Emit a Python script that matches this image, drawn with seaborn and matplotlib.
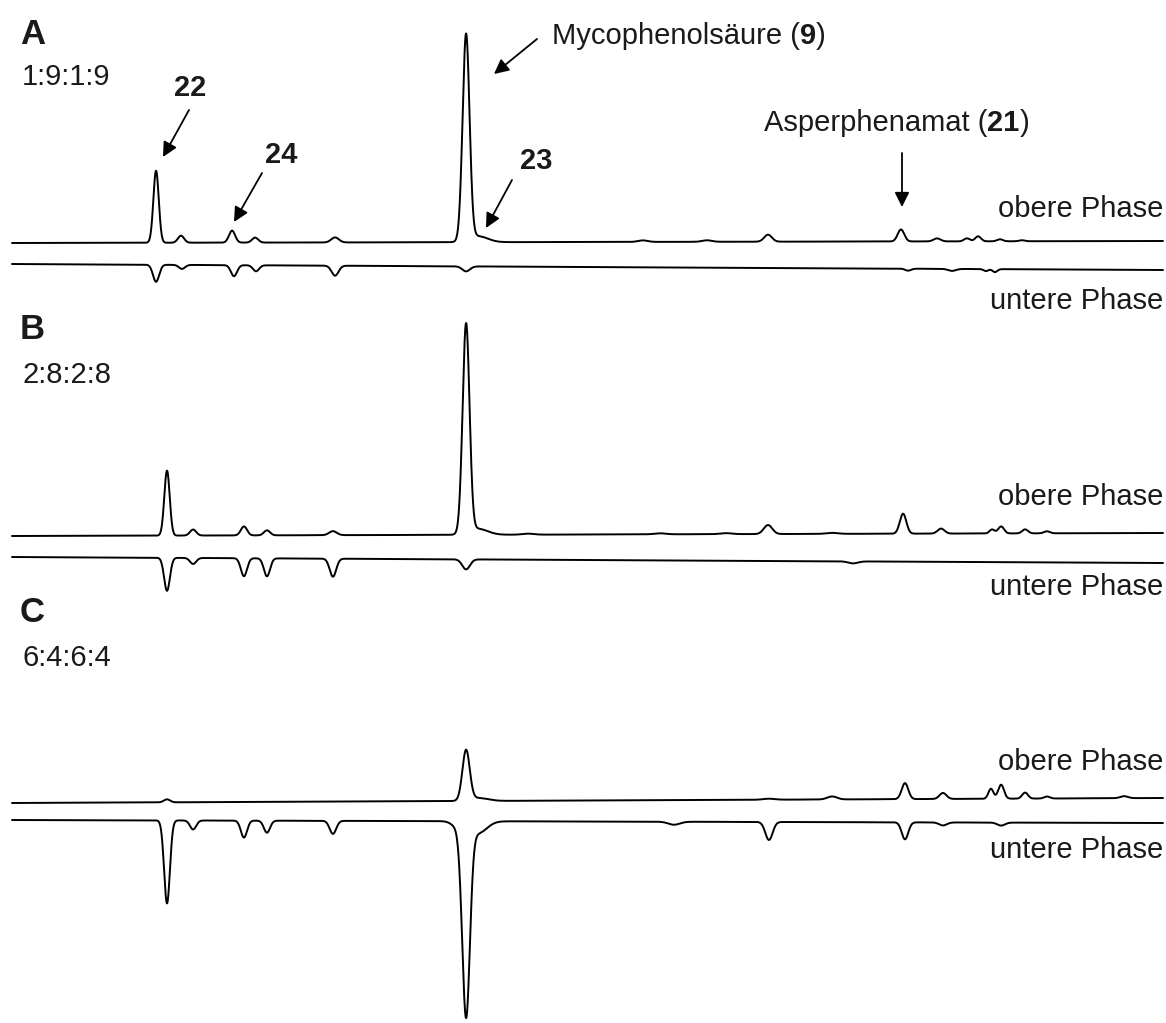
import numpy as np
import pandas as pd
import matplotlib
matplotlib.use("Agg")
import matplotlib.pyplot as plt
import seaborn as sns

sns.set_theme(style="white")
plt.rcParams["font.family"] = ["Liberation Sans", "DejaVu Sans"]

W, H = 1166, 1023

# ---------------- data: peaks (retention time [min], height, width sigma [min]) -------------
# Panel A (1:9:1:9)
A_up_rt = [7.51, 8.81, 11.47, 12.67, 16.84, 23.67, 24.29, 32.89, 36.23, 39.41, 46.34, 48.22, 49.78, 50.36, 51.50, 52.65]
A_up_h = [72, 7, 12, 5, 5, 206, 6, 1.5, 1.5, 7, 12, 3, 3, 5, 2, 1]
A_up_w = [0.14, 0.16, 0.16, 0.16, 0.2, 0.18, 0.5, 0.25, 0.25, 0.2, 0.17, 0.18, 0.15, 0.15, 0.15, 0.15]
A_lo_rt = [7.51, 8.86, 11.57, 12.72, 16.84, 23.67, 46.71, 49.00, 50.77, 51.24]
A_lo_h = [17, 4, 11, 6, 10, 5, 2, 2, 2, 3]
A_lo_w = [0.16, 0.16, 0.16, 0.16, 0.18, 0.2, 0.15, 0.2, 0.12, 0.12]

# Panel B (2:8:2:8)
B_up_rt = [8.08, 9.44, 12.09, 13.29, 16.73, 23.67, 24.29, 26.90, 33.78, 37.22, 39.41, 42.75, 46.45, 48.43, 51.09, 51.56, 52.81, 53.95]
B_up_h = [65, 6, 9, 5, 4, 209, 6, 1, 1, 1, 9, 1, 20, 5, 4, 7, 4, 2]
B_up_w = [0.14, 0.16, 0.16, 0.16, 0.2, 0.18, 0.5, 0.3, 0.3, 0.3, 0.22, 0.3, 0.17, 0.18, 0.13, 0.15, 0.15, 0.15]
B_lo_rt = [8.08, 9.44, 12.09, 13.29, 16.73, 23.67, 43.84]
B_lo_h = [33, 6, 18, 18, 18, 10, 2]
B_lo_w = [0.15, 0.16, 0.16, 0.16, 0.17, 0.2, 0.25]

# Panel C (6:4:6:4)
C_up_rt = [8.08, 23.67, 24.29, 39.46, 42.75, 46.55, 48.53, 51.03, 51.56, 52.81, 53.95, 57.97]
C_up_h = [3, 50, 3, 1, 3, 16, 6, 10, 14, 6, 2, 2]
C_up_w = [0.16, 0.19, 0.5, 0.3, 0.25, 0.17, 0.18, 0.13, 0.15, 0.15, 0.15, 0.2]
C_lo_rt = [8.08, 9.44, 12.09, 13.29, 16.73, 23.25, 23.67, 24.29, 34.51, 39.46, 46.55, 48.53, 51.56]
C_lo_h = [83, 9, 17, 12, 13, 6, 190, 12, 3, 18, 17, 3, 3]
C_lo_w = [0.15, 0.16, 0.16, 0.16, 0.17, 0.3, 0.2, 0.45, 0.3, 0.19, 0.17, 0.2, 0.2]

# baseline drift over the run (signal units, start -> end)
drift = {"A_up": (0, 2), "A_lo": (0, -6), "B_up": (0, 3), "B_lo": (0, -6),
         "C_up": (0, 5), "C_lo": (0, -3)}

panel_labels = ["A", "B", "C"]
ratios = ["1:9:1:9", "2:8:2:8", "6:4:6:4"]
phase_labels = ["obere Phase", "untere Phase"]

# ---------------- build traces ----------------
t = np.linspace(0.0, 60.0, 6000)

def trace(rts, hs, ws, d):
    s = np.zeros_like(t)
    for r, h, w in zip(rts, hs, ws):
        s += h * np.exp(-0.5 * ((t - r) / w) ** 2)
    s += np.interp(t, [t[0], t[-1]], list(d))
    return s

# layout: vertical offsets of each trace (figure pixel rows from the top)
rows = {"A_up": 243, "A_lo": 264, "B_up": 536, "B_lo": 557, "C_up": 803, "C_lo": 820}
specs = {
    "A_up": (A_up_rt, A_up_h, A_up_w, 1), "A_lo": (A_lo_rt, A_lo_h, A_lo_w, -1),
    "B_up": (B_up_rt, B_up_h, B_up_w, 1), "B_lo": (B_lo_rt, B_lo_h, B_lo_w, -1),
    "C_up": (C_up_rt, C_up_h, C_up_w, 1), "C_lo": (C_lo_rt, C_lo_h, C_lo_w, -1),
}
frames = []
for key, (rts, hs, ws, sgn) in specs.items():
    sig = trace(rts, hs, ws, (0, 0))
    base = np.interp(t, [t[0], t[-1]], list(drift[key]))
    y = (H - rows[key]) + sgn * sig + base
    frames.append(pd.DataFrame({"t": t, "y": y, "trace": key}))
df = pd.concat(frames, ignore_index=True)

# ---------------- figure ----------------
fig = plt.figure(figsize=(W / 100, H / 100), dpi=100)
ax = fig.add_axes([0, 0, 1, 1])
k = 60.0 / 1151.0
ax.set_xlim(-12 * k, 60 + 3 * k)
ax.set_ylim(0, H)
sns.lineplot(data=df, x="t", y="y", units="trace", estimator=None, sort=False,
             color="black", lw=1.4, ax=ax, legend=False)
ax.set_axis_off()

FS = 21

def fx(x):
    return x / W

def fy(y):
    return 1 - y / H

def rich(x, y, parts, size=FS):
    r = fig.canvas.get_renderer()
    for s, wt in parts:
        tx = fig.text(fx(x), fy(y), s, fontsize=size, fontweight=wt, ha="left", va="center", color="#1a1a1a")
        bb = tx.get_window_extent(r)
        x += bb.width

def arrow(x1, y1, x2, y2):
    ax.annotate("", xy=(fx(x2), fy(y2)), xytext=(fx(x1), fy(y1)),
                xycoords="figure fraction", textcoords="figure fraction",
                arrowprops=dict(arrowstyle="-|>", color="black", lw=1.3,
                                mutation_scale=22, shrinkA=0, shrinkB=0))

# panel labels and ratios
for lab, rat, ly, ry in zip(panel_labels, ratios, [34, 330, 612], [77, 375, 658]):
    fig.text(fx(20), fy(ly), lab, fontsize=25, fontweight="bold", ha="left", va="center", color="#1a1a1a")
    fig.text(fx(22), fy(ry), rat, fontsize=FS, ha="left", va="center", color="#1a1a1a")

# phase labels
for oy, uy in [(209, 301), (497, 587), (762, 850)]:
    fig.text(fx(1163), fy(oy), phase_labels[0], fontsize=FS, ha="right", va="center", color="#1a1a1a")
    fig.text(fx(1163), fy(uy), phase_labels[1], fontsize=FS, ha="right", va="center", color="#1a1a1a")

# compound annotations
rich(552, 36, [("Mycophenolsäure (", "normal"), ("9", "bold"), (")", "normal")])
rich(764, 123, [("Asperphenamat (", "normal"), ("21", "bold"), (")", "normal")])
arrow(537, 39, 494, 74)
arrow(902, 153, 902, 207)

for lab, (tx, ty), (x1, y1, x2, y2) in [
    ("22", (190, 88), (189, 110, 163, 157)),
    ("24", (281, 155), (262, 173, 234, 222)),
    ("23", (536, 161), (512, 180, 486, 228)),
]:
    fig.text(fx(tx), fy(ty), lab, fontsize=FS, fontweight="bold", ha="center", va="center", color="#1a1a1a")
    arrow(x1, y1, x2, y2)

fig.savefig("out.png", dpi=100, facecolor="white")
